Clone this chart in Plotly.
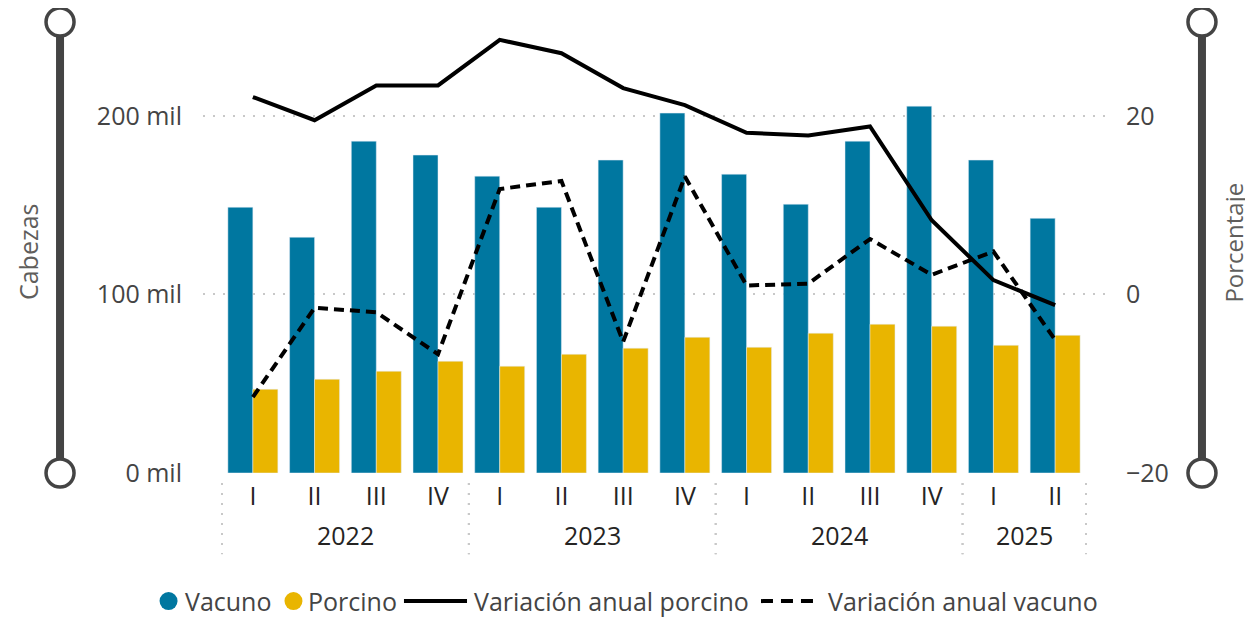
import plotly.graph_objects as go

years = ["2022"] * 4 + ["2023"] * 4 + ["2024"] * 4 + ["2025"] * 2
quarters = ["I", "II", "III", "IV", "I", "II", "III", "IV", "I", "II", "III", "IV", "I", "II"]
vacuno = [148800, 132000, 185800, 178000, 166200, 148800, 175200, 201500,
          167300, 150500, 185800, 205400, 175200, 142600]
porcino = [46900, 52500, 57000, 62600, 59800, 66500, 69900, 76000,
           70400, 78300, 83300, 82200, 71500, 77100]
var_porcino = [22.1, 19.5, 23.4, 23.4, 28.5, 27.0, 23.1, 21.2,
               18.1, 17.8, 18.8, 8.3, 1.6, -1.2]
var_vacuno = [-11.5, -1.5, -2.0, -6.7, 11.8, 12.7, -5.3, 13.2,
              1.0, 1.2, 6.2, 2.2, 4.8, -5.1]
left_ticks = [0, 100000, 200000]
left_ticktext = ["0 mil", "100 mil", "200 mil"]
right_ticks = [-20, 0, 20]
series_names = ["Vacuno", "Porcino", "Variación anual porcino", "Variación anual vacuno"]

BLUE = "#0077A0"
YELLOW = "#E9B500"
FONT = "Segoe UI, Open Sans, sans-serif"
TXT = "#252423"
AX = "#444444"
GRAY = "#444444"
FS = 25

x = list(range(len(quarters)))

fig = go.Figure()
fig.add_bar(x=x, y=vacuno, name=series_names[0], marker_color=BLUE)
fig.add_bar(x=x, y=porcino, name=series_names[1], marker_color=YELLOW)
fig.add_scatter(x=x, y=var_porcino, mode="lines", name=series_names[2],
                line=dict(color="black", width=4), yaxis="y2")
fig.add_scatter(x=x, y=var_vacuno, mode="lines", name=series_names[3],
                line=dict(color="black", width=4, dash="10px,6px"), yaxis="y2")

# year group labels and dividers
groups = []
for i, yv in enumerate(years):
    if not groups or groups[-1][0] != yv:
        groups.append([yv, i, i])
    else:
        groups[-1][2] = i

annotations = []
shapes = []
for yv, a, b in groups:
    annotations.append(dict(x=(a + b) / 2, y=-0.138, xref="x", yref="paper",
                            text=yv, showarrow=False, xanchor="center", yanchor="middle",
                            font=dict(size=FS, color=TXT, family=FONT)))
    for edge in (a - 0.5, b + 0.5):
        shapes.append(dict(type="line", xref="x", yref="paper", x0=edge, x1=edge,
                           y0=-0.022, y1=-0.18,
                           line=dict(color="#C8C8C8", width=2, dash="2px,8px")))

# axis titles
annotations.append(dict(x=-0.194, y=0.49, xref="paper", yref="paper", text="Cabezas",
                        textangle=-90, showarrow=False, xanchor="center", yanchor="middle",
                        font=dict(size=FS, color="#605E5C", family=FONT)))
annotations.append(dict(x=1.142, y=0.511, xref="paper", yref="paper", text="Porcentaje",
                        textangle=-90, showarrow=False, xanchor="center", yanchor="middle",
                        font=dict(size=24, color="#605E5C", family=FONT)))

# decorative axis sliders
for px in (-0.1585, 1.1075):
    shapes.append(dict(type="line", xref="paper", yref="paper", x0=px, x1=px, y0=0, y1=1,
                       line=dict(color=GRAY, width=8)))
    for py in (0, 1):
        shapes.append(dict(type="circle", xref="paper", yref="paper",
                           xsizemode="pixel", ysizemode="pixel",
                           xanchor=px, yanchor=py, x0=-14, x1=14, y0=-14, y1=14,
                           fillcolor="white", line=dict(color=GRAY, width=3.5)))

# custom legend (Power BI style)
LEG_Y = -0.284
leg_items = [
    dict(kind="dot", color=BLUE, sym=-0.0382, text=-0.0225),
    dict(kind="dot", color=YELLOW, sym=0.1003, text=0.1145),
    dict(kind="solid", color="black", sym=(0.2228, 0.2927), text=0.2985),
    dict(kind="dash", color="black", sym=(0.6186, 0.6851), text=0.6910),
]
for name, it in zip(series_names, leg_items):
    if it["kind"] == "dot":
        shapes.append(dict(type="circle", xref="paper", yref="paper",
                           xsizemode="pixel", ysizemode="pixel",
                           xanchor=it["sym"], yanchor=LEG_Y, x0=-9, x1=9, y0=-9, y1=9,
                           fillcolor=it["color"], line=dict(width=0)))
    else:
        shapes.append(dict(type="line", xref="paper", yref="paper",
                           x0=it["sym"][0], x1=it["sym"][1], y0=LEG_Y, y1=LEG_Y,
                           line=dict(color=it["color"], width=4,
                                     dash="solid" if it["kind"] == "solid" else "12px,8px")))
    annotations.append(dict(x=it["text"], y=LEG_Y, xref="paper", yref="paper", text=name,
                            showarrow=False, xanchor="left", yanchor="middle",
                            font=dict(size=FS, color=AX, family=FONT)))

fig.update_layout(
    width=1245, height=610,
    margin=dict(l=195, r=148, t=14, b=145, autoexpand=False),
    paper_bgcolor="white", plot_bgcolor="white",
    barmode="group", bargap=0.19, bargroupgap=0,
    font=dict(family=FONT, size=FS, color=TXT),
    showlegend=False,
    xaxis=dict(tickmode="array", tickvals=x, ticktext=quarters,
               range=[-0.808, 13.808], showgrid=False, zeroline=False,
               showline=False, ticks="", ticklabelstandoff=6,
               tickfont=dict(size=FS, color=TXT)),
    yaxis=dict(range=[0, 252500], tickvals=left_ticks, ticktext=left_ticktext,
               showgrid=True, gridcolor="#C8C8C8", griddash="2px,8px", gridwidth=2,
               zeroline=False, showline=False, ticks="", ticklabelstandoff=20,
               tickfont=dict(size=FS, color=AX)),
    yaxis2=dict(range=[-20, 30.5], tickvals=right_ticks, overlaying="y", side="right",
                showgrid=False, zeroline=False, showline=False, ticks="",
                ticklabelstandoff=20, tickfont=dict(size=FS, color=AX)),
    annotations=annotations,
    shapes=shapes,
)

fig.write_html("out.html")
